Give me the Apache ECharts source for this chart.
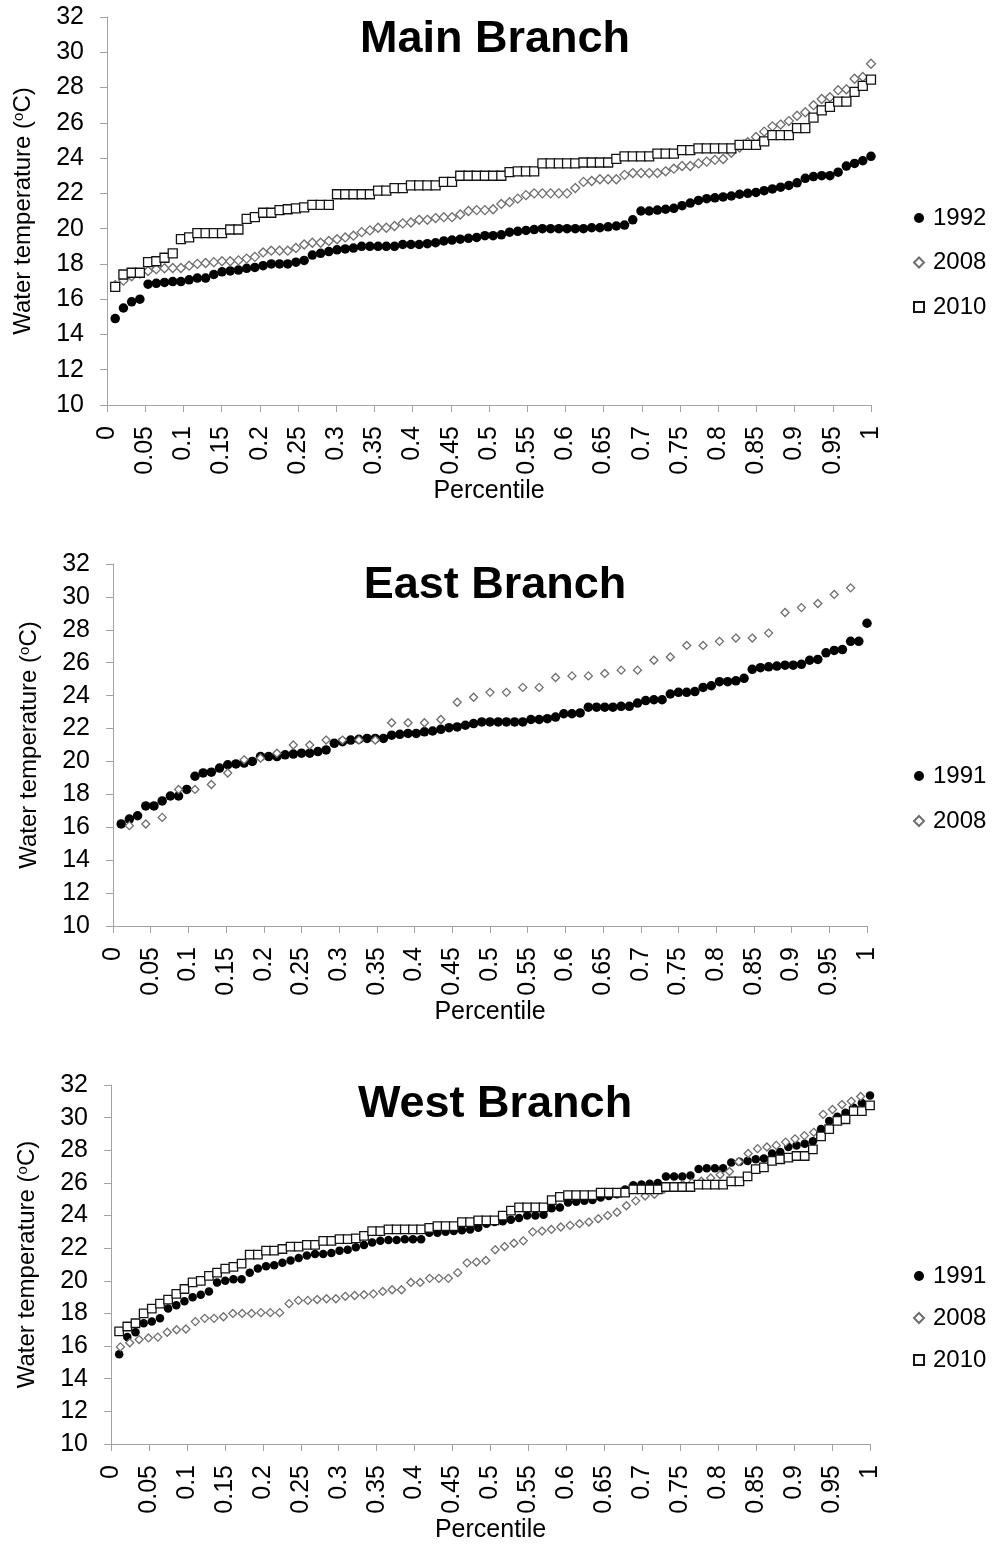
<!DOCTYPE html>
<html>
<head>
<meta charset="utf-8">
<script src="https://cdn.jsdelivr.net/npm/echarts@6/dist/echarts.min.js"></script>
<style>
  html, body { margin: 0; padding: 0; background: #ffffff; }
  #chart { width: 997px; height: 1544px; }
</style>
</head>
<body>
<div id="chart"></div>
<script>
// Daily water temperatures (°C), sorted ascending; plotted against rank percentile.
const main1992 = [14.9, 15.5, 15.85, 16.0, 16.85, 16.9, 16.95, 17.0, 17.0, 17.1,
  17.2, 17.2, 17.4, 17.55, 17.6, 17.65, 17.75, 17.8, 17.9, 18.0,
  18.0, 18.0, 18.1, 18.2, 18.5, 18.6, 18.7, 18.8, 18.85, 18.9,
  19.0, 19.0, 19.0, 19.0, 19.0, 19.1, 19.1, 19.1, 19.15, 19.2,
  19.3, 19.35, 19.4, 19.45, 19.5, 19.6, 19.6, 19.65, 19.8, 19.85,
  19.9, 19.95, 20.0, 20.0, 20.0, 20.0, 20.0, 20.0, 20.05, 20.05,
  20.1, 20.15, 20.2, 20.5, 21.0, 21.0, 21.05, 21.1, 21.15, 21.3,
  21.45, 21.6, 21.7, 21.75, 21.8, 21.85, 21.95, 22.0, 22.05, 22.15,
  22.25, 22.35, 22.45, 22.6, 22.85, 22.95, 23.0, 23.0, 23.2, 23.55,
  23.7, 23.85, 24.1];
const main2008 = [16.8, 17.05, 17.3, 17.45, 17.6, 17.7, 17.75, 17.77, 17.77, 17.9,
  18.0, 18.05, 18.1, 18.15, 18.15, 18.2, 18.3, 18.4, 18.65, 18.75,
  18.75, 18.75, 18.9, 19.1, 19.2, 19.2, 19.3, 19.4, 19.5, 19.6,
  19.8, 19.9, 20.05, 20.05, 20.15, 20.3, 20.35, 20.5, 20.5, 20.6,
  20.65, 20.65, 20.8, 21.0, 21.05, 21.05, 21.1, 21.4, 21.5, 21.7,
  21.9, 22.0, 22.0, 22.0, 22.0, 22.0, 22.3, 22.65, 22.7, 22.8,
  22.8, 22.8, 23.05, 23.15, 23.15, 23.15, 23.15, 23.25, 23.4, 23.55,
  23.55, 23.7, 23.8, 23.9, 23.95, 24.3, 24.6, 24.9, 25.2, 25.5,
  25.8, 25.9, 26.1, 26.4, 26.6, 27.0, 27.35, 27.45, 27.85, 27.9,
  28.5, 28.6, 29.35];
const main2010 = [16.7, 17.4, 17.5, 17.5, 18.1, 18.15, 18.35, 18.6, 19.4, 19.5,
  19.75, 19.75, 19.75, 19.75, 19.95, 19.95, 20.55, 20.65, 20.9, 20.9,
  21.05, 21.1, 21.15, 21.2, 21.35, 21.35, 21.35, 21.95, 21.95, 21.95,
  21.95, 21.95, 22.15, 22.15, 22.3, 22.3, 22.45, 22.45, 22.45, 22.45,
  22.65, 22.65, 23.0, 23.0, 23.0, 23.0, 23.0, 23.0, 23.2, 23.25,
  23.25, 23.25, 23.7, 23.7, 23.7, 23.7, 23.7, 23.75, 23.75, 23.75,
  23.75, 23.95, 24.1, 24.1, 24.1, 24.1, 24.25, 24.25, 24.25, 24.45,
  24.45, 24.55, 24.55, 24.55, 24.55, 24.55, 24.75, 24.75, 24.75, 24.95,
  25.3, 25.3, 25.3, 25.7, 25.7, 26.3, 26.7, 26.9, 27.2, 27.2,
  27.75, 28.1, 28.45];

const east1991 = [16.2, 16.5, 16.7, 17.3, 17.3, 17.6, 17.9, 17.9, 18.3, 19.1,
  19.3, 19.35, 19.6, 19.8, 19.85, 19.9, 20.0, 20.3, 20.3, 20.3,
  20.4, 20.45, 20.5, 20.5, 20.6, 20.7, 21.1, 21.2, 21.3, 21.35,
  21.4, 21.4, 21.4, 21.6, 21.65, 21.7, 21.7, 21.8, 21.85, 21.95,
  22.05, 22.1, 22.2, 22.3, 22.4, 22.4, 22.4, 22.4, 22.4, 22.4,
  22.55, 22.55, 22.6, 22.7, 22.9, 22.9, 22.95, 23.3, 23.3, 23.3,
  23.3, 23.35, 23.35, 23.55, 23.7, 23.75, 23.75, 24.1, 24.2, 24.2,
  24.25, 24.5, 24.6, 24.85, 24.85, 24.9, 25.05, 25.6, 25.7, 25.75,
  25.8, 25.85, 25.85, 25.9, 26.15, 26.2, 26.6, 26.75, 26.8, 27.3,
  27.3, 28.4];
const east2008 = [16.1, 16.2, 16.6, 18.3, 18.3, 18.6, 19.3, 20.1, 20.2, 20.5,
  21.0, 21.0, 21.3, 21.3, 21.3, 21.3, 22.35, 22.35, 22.35, 22.55,
  23.6, 23.9, 24.2, 24.2, 24.5, 24.5, 25.1, 25.2, 25.2, 25.35,
  25.55, 25.55, 26.15, 26.35, 27.05, 27.05, 27.3, 27.5, 27.5, 27.8,
  29.05, 29.35, 29.6, 30.15, 30.55];

const west1991 = [15.5, 16.55, 16.85, 17.4, 17.5, 17.7, 18.3, 18.5, 18.75, 19.0,
  19.15, 19.35, 19.9, 20.0, 20.1, 20.1, 20.5, 20.75, 20.9, 20.95,
  21.1, 21.25, 21.4, 21.55, 21.65, 21.65, 21.7, 21.85, 21.9, 22.05,
  22.2, 22.35, 22.45, 22.5, 22.5, 22.55, 22.55, 22.55, 22.95, 22.95,
  23.0, 23.05, 23.1, 23.15, 23.25, 23.5, 23.6, 23.65, 23.75, 23.85,
  24.0, 24.0, 24.05, 24.45, 24.5, 24.8, 24.85, 24.9, 24.95, 25.1,
  25.2, 25.3, 25.6, 25.85, 25.9, 25.95, 26.0, 26.4, 26.4, 26.4,
  26.45, 26.85, 26.9, 26.9, 26.9, 27.25, 27.3, 27.35, 27.45, 27.5,
  27.8, 27.9, 28.2, 28.3, 28.4, 28.55, 29.3, 29.8, 30.05, 30.3,
  30.6, 30.9, 31.35];
const west2008 = [15.95, 16.2, 16.4, 16.5, 16.55, 16.85, 17.0, 17.05, 17.5, 17.7,
  17.7, 17.8, 18.0, 18.0, 18.0, 18.05, 18.05, 18.05, 18.6, 18.8,
  18.8, 18.85, 18.9, 18.9, 19.05, 19.1, 19.15, 19.2, 19.35, 19.45,
  19.45, 19.9, 19.9, 20.15, 20.15, 20.15, 20.5, 21.1, 21.15, 21.25,
  21.9, 22.1, 22.3, 22.45, 23.0, 23.05, 23.15, 23.3, 23.4, 23.5,
  23.6, 23.8, 24.0, 24.2, 24.6, 24.9, 25.2, 25.3, 25.6, 25.8,
  25.9, 26.0, 26.1, 26.3, 26.5, 26.7, 27.3, 27.8, 28.1, 28.2,
  28.3, 28.5, 28.7, 28.9, 29.1, 30.2, 30.5, 30.8, 31.0, 31.3];
const west2010 = [16.9, 17.2, 17.4, 18.0, 18.3, 18.6, 18.85, 19.2, 19.5, 19.9,
  20.0, 20.3, 20.5, 20.75, 20.85, 21.05, 21.6, 21.6, 21.85, 21.85,
  21.95, 22.1, 22.1, 22.2, 22.2, 22.45, 22.45, 22.55, 22.55, 22.6,
  22.75, 23.05, 23.05, 23.15, 23.15, 23.15, 23.15, 23.15, 23.25, 23.35,
  23.35, 23.35, 23.6, 23.6, 23.7, 23.7, 23.7, 24.0, 24.3, 24.5,
  24.5, 24.5, 24.5, 24.95, 25.15, 25.25, 25.25, 25.25, 25.25, 25.4,
  25.4, 25.4, 25.4, 25.6, 25.6, 25.6, 25.6, 25.75, 25.75, 25.75,
  25.75, 25.9, 25.9, 25.9, 25.9, 26.1, 26.1, 26.4, 26.85, 26.95,
  27.35, 27.45, 27.55, 27.65, 27.65, 28.05, 28.85, 29.3, 29.8, 29.9,
  30.4, 30.4, 30.75];

// Rank divisor per record: most use i/n, the 2008 East and West records use i/(n+1).
const panelTitles = ['Main Branch', 'East Branch', 'West Branch'];
const yearLabels = {
  main: ['1992', '2008', '2010'],
  east: ['1991', '2008'],
  west: ['1991', '2008', '2010']
};

const FONT = '"Liberation Sans", Arial, Helvetica, sans-serif';

function toPoints(values, divisor) {
  return values.map((v, i) => [(i + 1) / divisor, v]);
}

const markerStyles = {
  dot: { symbol: 'circle', itemStyle: { color: '#000000', borderWidth: 0, opacity: 1 } },
  diamond: { symbol: 'diamond', itemStyle: { color: '#ffffff', borderColor: '#6e6e6e', borderWidth: 1.3, opacity: 1 } },
  square: { symbol: 'rect', itemStyle: { color: '#ffffff', borderColor: '#141414', borderWidth: 1.3, opacity: 1 } }
};

const panels = [
  {
    title: panelTitles[0], grid: { left: 107, top: 17, width: 764, height: 388 }, titleTop: 17,
    legendTop: 206, legendGap: 20.5,
    series: [
      { name: yearLabels.main[0], values: main1992, divisor: main1992.length, kind: 'dot', size: 9.5 },
      { name: yearLabels.main[1], values: main2008, divisor: main2008.length, kind: 'diamond', size: 9 },
      { name: yearLabels.main[2], values: main2010, divisor: main2010.length, kind: 'square', size: 9 }
    ]
  },
  {
    title: panelTitles[1], grid: { left: 113, top: 564, width: 754, height: 362 }, titleTop: 563,
    legendTop: 764, legendGap: 21,
    series: [
      { name: yearLabels.east[0], values: east1991, divisor: east1991.length, kind: 'dot', size: 9.5 },
      { name: yearLabels.east[1], values: east2008, divisor: east2008.length + 1, kind: 'diamond', size: 8 }
    ]
  },
  {
    title: panelTitles[2], grid: { left: 111, top: 1085, width: 759, height: 361 }, titleTop: 1082,
    legendTop: 1264, legendGap: 18,
    series: [
      { name: yearLabels.west[0], values: west1991, divisor: west1991.length, kind: 'dot', size: 8.5 },
      { name: yearLabels.west[1], values: west2008, divisor: west2008.length + 1, kind: 'diamond', size: 8 },
      { name: yearLabels.west[2], values: west2010, divisor: west2010.length, kind: 'square', size: 8.5 }
    ]
  }
];

const axisGray = '#a3a3a3';

const option = {
  backgroundColor: '#ffffff',
  animation: false,
  textStyle: { fontFamily: FONT },
  title: [],
  legend: [],
  grid: [],
  xAxis: [],
  yAxis: [],
  series: []
};

panels.forEach((p, k) => {
  option.title.push({
    text: p.title,
    left: 495,
    top: p.titleTop,
    textAlign: 'center',
    padding: 0,
    textStyle: { fontFamily: FONT, fontSize: 45, fontWeight: 'bold', color: '#000000' }
  });
  option.grid.push(Object.assign({ containLabel: false }, p.grid));
  option.xAxis.push({
    gridIndex: k,
    type: 'value',
    min: 0, max: 1, interval: 0.05,
    name: 'Percentile',
    nameLocation: 'middle',
    nameGap: 74,
    nameTextStyle: { fontFamily: FONT, fontSize: 25, color: '#000000' },
    axisLine: { show: true, lineStyle: { color: axisGray, width: 1 } },
    axisTick: { show: true, inside: false, length: 7, lineStyle: { color: axisGray } },
    splitLine: { show: false },
    axisLabel: {
      rotate: 90, margin: 21, fontFamily: FONT, fontSize: 25, color: '#000000',
      showMinLabel: true, showMaxLabel: true,
      formatter: v => String(Math.round(v * 100) / 100)
    }
  });
  option.yAxis.push({
    gridIndex: k,
    type: 'value',
    min: 10, max: 32, interval: 2,
    name: '{n|Water temperature (}{s|o}{n|C)}',
    nameLocation: 'middle',
    nameGap: 72,
    nameRotate: 90,
    nameTextStyle: {
      fontFamily: FONT, fontSize: 24, color: '#000000',
      rich: {
        n: { fontFamily: FONT, fontSize: 24, color: '#000000' },
        s: { fontFamily: FONT, fontSize: 15, color: '#000000', verticalAlign: 'top' }
      }
    },
    axisLine: { show: true, lineStyle: { color: axisGray, width: 1 } },
    axisTick: { show: true, inside: false, length: 7, lineStyle: { color: axisGray } },
    splitLine: { show: false },
    axisLabel: { margin: 23, fontFamily: FONT, fontSize: 25, color: '#000000' }
  });
  p.series.forEach(s => {
    const st = markerStyles[s.kind];
    option.series.push({
      name: s.name,
      type: 'scatter',
      xAxisIndex: k,
      yAxisIndex: k,
      symbol: st.symbol,
      symbolSize: s.size,
      itemStyle: st.itemStyle,
      emphasis: { disabled: true },
      data: toPoints(s.values, s.divisor)
    });
  });
  option.legend.push({
    data: p.series.map(s => s.name),
    orient: 'vertical',
    left: 913,
    top: p.legendTop,
    itemGap: p.legendGap,
    itemWidth: 10,
    itemHeight: 10,
    padding: 0,
    selectedMode: false,
    textStyle: { fontFamily: FONT, fontSize: 24, color: '#000000', lineHeight: 24, padding: [0, 0, 0, 4] }
  });
});

const chart = echarts.init(document.getElementById('chart'), null, { renderer: 'canvas' });
chart.setOption(option);
</script>
</body>
</html>
